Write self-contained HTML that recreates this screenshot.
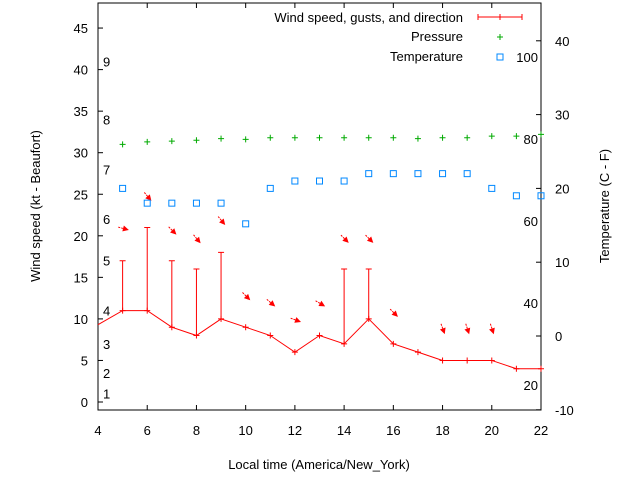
<!DOCTYPE html>
<html><head><meta charset="utf-8"><style>
body{margin:0;background:#fff}
text{font-family:"Liberation Sans",sans-serif;font-size:13px;fill:#000}
</style></head><body>
<svg id="c" width="640" height="480" xmlns="http://www.w3.org/2000/svg"></svg>
<script>
const hours=[5,6,7,8,9,10,11,12,13,14,15,16,17,18,19,20,21,22];
const windSpeed=[11,11,9,8,10,9,8,6,8,7,10,7,6,5,5,5,4,4];
const gustHours=[5,6,7,8,9,14,15];
const gustValues=[17,21,17,16,18,16,16];
const pressure=[31,31.3,31.4,31.5,31.7,31.6,31.8,31.8,31.8,31.8,31.8,31.8,31.7,31.8,31.8,32,32,32.2];
const temperature=[20,18,18,18,18,15.2,20,21,21,21,22,22,22,22,22,20,19,19];
const arrowHours=[5,6,7,8,9,10,11,12,13,14,15,16,18,19,20];
const arrowLevels=[20.9,24.8,20.7,19.7,21.9,12.8,12,9.9,11.9,19.7,19.7,10.8,8.9,8.9,8.9];
const arrowAngles=[15,50,45,50,50,45,40,20,30,45,45,45,70,72,72];
const xTicks=[4,6,8,10,12,14,16,18,20,22];
const yTicks=[0,5,10,15,20,25,30,35,40,45];
const y2Ticks=[-10,0,10,20,30,40];
const beaufort=[1,2,3,4,5,6,7,8,9];
const beaufortKt=[1,3.5,7,11,17,22,28,34,41];
const fahr=[20,40,60,80,100];

const L=98,R=541,T=3,B=410;
const x=h=>L+(h-4)*(R-L)/18;
const y=v=>402-v*8.31;
const y2=c=>336-c*7.38;
const svg=document.getElementById('c');
const NS='http://www.w3.org/2000/svg';
function mk(tag,attrs,parent){const e=document.createElementNS(NS,tag);for(const k in attrs)e.setAttribute(k,attrs[k]);(parent||svg).appendChild(e);return e;}

const frame=mk('rect',{x:L,y:T,width:R-L,height:B-T,fill:'none',stroke:'#000'});



xTicks.forEach(h=>{
 mk('line',{x1:x(h),x2:x(h),y1:B,y2:B-5,stroke:'#000'});
 mk('line',{x1:x(h),x2:x(h),y1:T,y2:T+5,stroke:'#000'});
 const t=mk('text',{x:x(h),y:B+25,'text-anchor':'middle'});t.textContent=h;
 
 
});
yTicks.forEach(v=>{
 mk('line',{x1:L,x2:L+5,y1:y(v),y2:y(v),stroke:'#000'});
 const t=mk('text',{x:L-10,y:y(v)+5,'text-anchor':'end'});t.textContent=v;
 
 
});
y2Ticks.forEach(v=>{
 mk('line',{x1:R,x2:R-5,y1:y2(v),y2:y2(v),stroke:'#000'});
 const t=mk('text',{x:R+14,y:y2(v)+5});t.textContent=v;
 
 
});
beaufort.forEach((b,i)=>{
 const t=mk('text',{x:103,y:y(beaufortKt[i])+5});t.textContent=b;
 
 
});
fahr.forEach(f=>{
 const t=mk('text',{x:538,y:y2((f-32)*5/9)+5,'text-anchor':'end'});t.textContent=f;
 
 
});

let d='M'+L+','+y(9.3);
hours.forEach((h,i)=>{d+=' L'+x(h)+','+y(windSpeed[i]);});
const wl=mk('path',{d:d,fill:'none',stroke:'#f00'});


hours.forEach((h,i)=>{
 const p=mk('path',{d:`M${x(h)-3},${y(windSpeed[i])}h6M${x(h)},${y(windSpeed[i])-3}v6`,stroke:'#f00'});
 
 
});
gustHours.forEach((h,i)=>{
 const si=hours.indexOf(h);
 const g=mk('path',{d:`M${x(h)},${y(windSpeed[si])}V${y(gustValues[i])}M${x(h)-3},${y(gustValues[i])}h6`,stroke:'#f00',fill:'none'});
 
 
});
arrowHours.forEach((h,i)=>{
 const cx=x(h),cy=y(arrowLevels[i]),a=arrowAngles[i]*Math.PI/180;
 const dx=Math.cos(a),dy=Math.sin(a),len=9;
 const x1=cx-dx*len/2,y1=cy-dy*len/2,x2=cx+dx*len/2,y2_=cy+dy*len/2;
 const px=-dy,py=dx;
 const g=mk('g',{});
 
 
 mk('line',{x1:x1,y1:y1,x2:x2,y2:y2_,stroke:'#f00','stroke-dasharray':'2,1'},g);
 mk('polygon',{points:`${x2+dx*2},${y2_+dy*2} ${x2-dx*4+px*3},${y2_-dy*4+py*3} ${x2-dx*4-px*3},${y2_-dy*4-py*3}`,fill:'#f00'},g);
});
hours.forEach((h,i)=>{
 const p=mk('path',{d:`M${x(h)-3},${y(pressure[i])}h6M${x(h)},${y(pressure[i])-3}v6`,stroke:'#0a0'});
 
 
});
hours.forEach((h,i)=>{
 const r=mk('rect',{x:x(h)-3,y:y2(temperature[i])-3,width:6,height:6,fill:'none',stroke:'#08f'});
 
 
});

const lg=mk('g',{});


const lt=[['Wind speed, gusts, and direction',22],['Pressure',41],['Temperature',61]];
lt.forEach(a=>{const t=mk('text',{x:463,y:a[1],'text-anchor':'end'},lg);t.textContent=a[0];});
mk('path',{d:'M478,17h44M478,14v6M500,14v6M522,14v6',stroke:'#f00',fill:'none'},lg);
mk('path',{d:'M497,37h6M500,34v6',stroke:'#0a0'},lg);
mk('rect',{x:497,y:54,width:6,height:6,fill:'none',stroke:'#08f'},lg);

const xt=mk('text',{x:319,y:469,'text-anchor':'middle'});xt.textContent='Local time (America/New_York)';


const yt=mk('text',{x:40,y:206,'text-anchor':'middle',transform:'rotate(-90 40 206)'});yt.textContent='Wind speed (kt - Beaufort)';


const y2t=mk('text',{x:609,y:206,'text-anchor':'middle',transform:'rotate(-90 609 206)'});y2t.textContent='Temperature (C - F)';


</script>
</body></html>
